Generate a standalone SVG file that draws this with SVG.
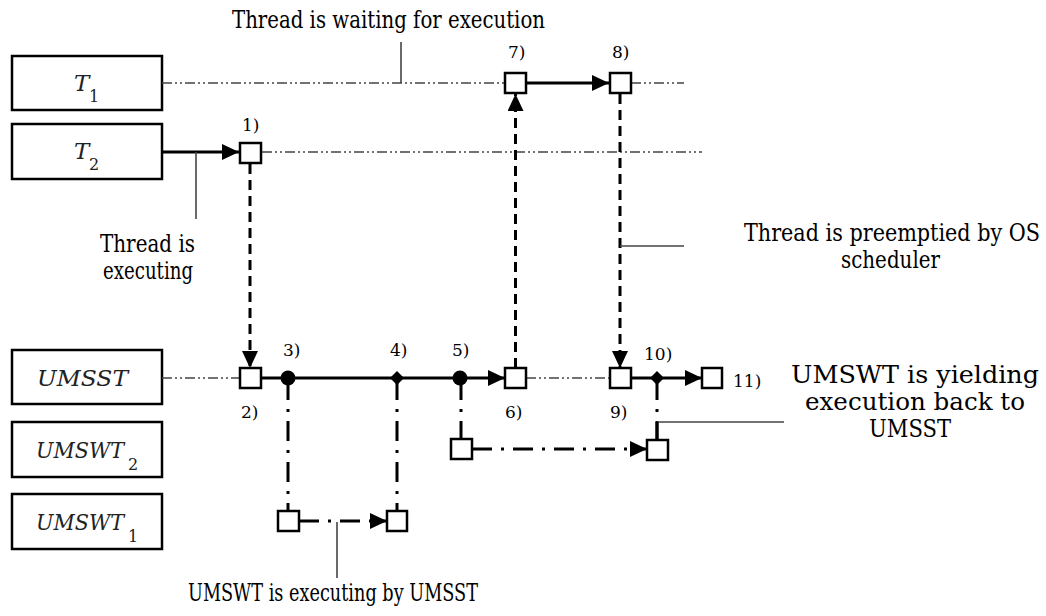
<svg xmlns="http://www.w3.org/2000/svg" width="1046" height="616" viewBox="0 0 1046 616">
<style>
.box{fill:#fff;stroke:#000;stroke-width:2.5}
.sq{fill:#fff;stroke:#000;stroke-width:2.5}
.lbl{font-size:24px;fill:#000}
.it{font-style:italic;font-size:23px;fill:#222}
.sub{font-style:normal;font-size:16px;fill:#222}
.num{font-size:17px;fill:#000}
.ddd{stroke:#444;stroke-width:1.6;fill:none;stroke-dasharray:10 3 2 3 2 3}
.solid{stroke:#000;stroke-width:3;fill:none}
.dash{stroke:#000;stroke-width:3;fill:none;stroke-dasharray:10 6}
.dd{stroke:#000;stroke-width:3;fill:none;stroke-dasharray:20 9 3 9}
.lead{stroke:#444;stroke-width:1.6;fill:none}
</style>
<defs>
<marker id="ah" markerUnits="userSpaceOnUse" markerWidth="18" markerHeight="16" refX="17" refY="8" orient="auto">
<path d="M0,0 L17,8 L0,16 Z" fill="#000"/>
</marker>
</defs>

<g font-family="'DejaVu Serif', serif">
<g id="T1"><rect class="box" x="12" y="56" width="150" height="54"/><text class="it" x="74" y="91">T<tspan class="sub" x="89" y="102">1</tspan></text></g>
<g id="T2"><rect class="box" x="12" y="124" width="150" height="55"/><text class="it" x="74" y="159">T<tspan class="sub" x="89" y="170">2</tspan></text></g>
<g id="UMSST"><rect class="box" x="12" y="350" width="150" height="54"/><text class="it" x="37" y="386" textLength="91" lengthAdjust="spacingAndGlyphs">UMSST</text></g>
<g id="UMSWT2"><rect class="box" x="12" y="422" width="150" height="55"/><text class="it" y="458"><tspan x="36" textLength="88" lengthAdjust="spacingAndGlyphs">UMSWT</tspan><tspan class="sub" x="128" y="470">2</tspan></text></g>
<g id="UMSWT1"><rect class="box" x="12" y="494" width="150" height="55"/><text class="it" y="530"><tspan x="36" textLength="88" lengthAdjust="spacingAndGlyphs">UMSWT</tspan><tspan class="sub" x="128" y="542">1</tspan></text></g>

<g id="connectors">
<line class="ddd" x1="162" y1="83" x2="505" y2="83"/>
<line class="ddd" x1="631" y1="83" x2="684" y2="83"/>
<line class="solid" x1="526" y1="83" x2="609" y2="83" marker-end="url(#ah)"/>
<line class="solid" x1="162" y1="152" x2="239" y2="152" marker-end="url(#ah)"/>
<line class="ddd" x1="262" y1="152" x2="702" y2="152"/>
<line class="ddd" x1="162" y1="378" x2="240" y2="378"/>
<line class="solid" x1="262" y1="378" x2="505" y2="378" marker-end="url(#ah)"/>
<line class="ddd" x1="526" y1="378" x2="609" y2="378"/>
<line class="solid" x1="631" y1="378" x2="702" y2="378" marker-end="url(#ah)"/>
<line class="dash" x1="250" y1="164" x2="250" y2="368" marker-end="url(#ah)"/>
<line class="dash" x1="515.5" y1="368" x2="515.5" y2="94" marker-end="url(#ah)"/>
<line class="dash" x1="620" y1="94" x2="620" y2="368" marker-end="url(#ah)"/>
<line class="dd" x1="288" y1="380" x2="288" y2="511"/>
<line class="dd" x1="397" y1="380" x2="397" y2="511"/>
<line class="dd" x1="461" y1="380" x2="461" y2="439"/>
<line class="dd" x1="657" y1="380" x2="657" y2="440"/>
<line class="dd" x1="299" y1="521" x2="387" y2="521" marker-end="url(#ah)"/>
<line class="dd" x1="472" y1="449" x2="647" y2="449" marker-end="url(#ah)"/>
<line class="lead" x1="401" y1="42" x2="401" y2="83"/>
<line class="lead" x1="196" y1="152" x2="196" y2="219"/>
<line class="lead" x1="620" y1="246" x2="684" y2="246"/>
<line class="lead" x1="657" y1="422" x2="784" y2="422"/>
<line class="solid" x1="657" y1="422" x2="657" y2="440"/>
<line class="lead" x1="337" y1="522" x2="337" y2="578"/>
</g>

<g id="points">
<rect class="sq" x="240" y="143" width="21" height="20"/>
<rect class="sq" x="505" y="73" width="21" height="20"/>
<rect class="sq" x="610" y="73" width="21" height="20"/>
<rect class="sq" x="240" y="368" width="21" height="20"/>
<rect class="sq" x="505" y="368" width="21" height="20"/>
<rect class="sq" x="610" y="368" width="21" height="20"/>
<rect class="sq" x="702" y="368" width="20" height="20"/>
<rect class="sq" x="278" y="511" width="21" height="20"/>
<rect class="sq" x="387" y="511" width="20" height="20"/>
<rect class="sq" x="451" y="439" width="21" height="20"/>
<rect class="sq" x="647" y="440" width="21" height="20"/>
<circle cx="288" cy="378" r="7.5" fill="#000"/>
<circle cx="460" cy="378" r="7.5" fill="#000"/>
<path d="M397,371 L404,378 L397,385 L390,378 Z" fill="#000"/>
<path d="M657,371 L664,378 L657,385 L650,378 Z" fill="#000"/>
</g>

<g id="numbers">
<text class="num" x="242" y="131">1)</text>
<text class="num" x="241" y="418">2)</text>
<text class="num" x="283" y="356">3)</text>
<text class="num" x="390" y="356">4)</text>
<text class="num" x="452" y="356">5)</text>
<text class="num" x="505" y="418">6)</text>
<text class="num" x="508" y="58">7)</text>
<text class="num" x="612" y="58">8)</text>
<text class="num" x="610" y="418">9)</text>
<text class="num" x="644" y="360">10)</text>
<text class="num" x="733" y="387">11)</text>
</g>

<g id="labels">
<text class="lbl" x="232" y="28" textLength="313" lengthAdjust="spacingAndGlyphs">Thread is waiting for execution</text>
<text class="lbl" x="100" y="252" textLength="95" lengthAdjust="spacingAndGlyphs">Thread is</text>
<text class="lbl" x="103" y="279" textLength="90" lengthAdjust="spacingAndGlyphs">executing</text>
<text class="lbl" x="1040" y="241" text-anchor="end" textLength="296" lengthAdjust="spacingAndGlyphs">Thread is preemptied by OS</text>
<text class="lbl" x="841" y="268" textLength="99" lengthAdjust="spacingAndGlyphs">scheduler</text>
<text class="lbl" x="791" y="383" textLength="248" lengthAdjust="spacingAndGlyphs">UMSWT is yielding</text>
<text class="lbl" x="805" y="410" textLength="220" lengthAdjust="spacingAndGlyphs">execution back to</text>
<text class="lbl" x="869" y="437" textLength="82" lengthAdjust="spacingAndGlyphs">UMSST</text>
<text class="lbl" x="188" y="601" textLength="290" lengthAdjust="spacingAndGlyphs">UMSWT is executing by UMSST</text>
</g>
</g>
</svg>
